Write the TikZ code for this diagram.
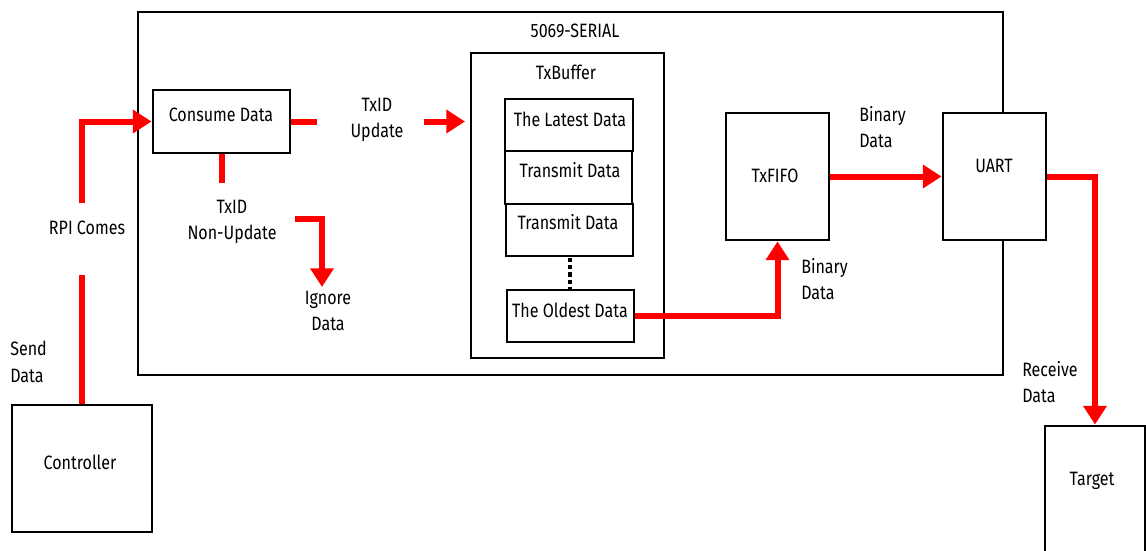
\documentclass[tikz,border=0pt]{standalone}
\usepackage{fontspec}
\setmainfont{Fira Sans}[FakeStretch=0.83]
\usetikzlibrary{arrows.meta}
\definecolor{arrred}{RGB}{255,0,0}
\begin{document}
\begin{tikzpicture}[x=0.75pt,y=-0.75pt,
  box/.style={draw=black,line width=2.2pt,fill=white,minimum width=#1,inner sep=0pt},
  txt/.style={font=\fontsize{14.5}{20}\selectfont,align=center,inner sep=0pt},
  ltxt/.style={txt,align=left,anchor=west},
  redline/.style={draw=arrred,line width=4.5pt},
  redarrow/.style={redline,-{Triangle[length=14pt,width=17pt]}},
  dotsline/.style={draw=black,line width=3.2pt,dash pattern=on 3.2pt off 2.2pt}]
\useasboundingbox (0,0) rectangle (1146,550);
% boxes
\node[box=648.75pt,minimum height=272.25pt,fill=none] (outer) at (570.5,193.5) {};
\node[box=102.75pt,minimum height=47.25pt] (consume) at (221.5,121.5) {};
\node[box=144.75pt,minimum height=228.75pt] (txbuf) at (567.5,205.5) {};
\node[box=96pt,minimum height=39pt] (latest) at (569,125) {};
\node[box=95.25pt,minimum height=39.75pt] (trans1) at (568.5,177.5) {};
\node[box=95.25pt,minimum height=39pt] (trans2) at (569.5,230) {};
\node[box=95.25pt,minimum height=39pt] (oldest) at (570.5,316) {};
\node[box=77.25pt,minimum height=95.25pt] (txfifo) at (777.5,176.5) {};
\node[box=77.25pt,minimum height=95.25pt] (uart) at (994.5,176.5) {};
\node[box=105pt,minimum height=95.25pt] (controller) at (82,468.5) {};
\node[box=75pt,minimum height=100.5pt] (target) at (1095,493) {};
% box texts
\node[txt] (ttitle) at (575,31) {5069-SERIAL};
\node[txt] (tbuf) at (566,72) {TxBuffer};
\node[txt] (tconsume) at (221,115) {Consume Data};
\node[txt] (tlatest) at (570,119) {The Latest Data};
\node[txt] (ttrans1) at (570,170) {Transmit Data};
\node[txt] (ttrans2) at (568,222) {Transmit Data};
\node[txt] (toldest) at (570,310) {The Oldest Data};
\node[txt] (tfifo) at (775,176) {TxFIFO};
\node[txt] (tuart) at (994,166) {UART};
\node[txt] (tcontroller) at (80,462) {Controller};
\node[txt] (ttarget) at (1092,481) {Target};
% labels
\node[txt] (lupd) at (377,120) {TxID\\Update};
\node[txt] (lnonupd) at (232,222) {TxID\\Non-Update};
\node[txt] (lignore) at (328,311) {Ignore\\Data};
\node[txt] (lrpi) at (87,228) {RPI Comes};
\node[ltxt] (lsend) at (10,362) {Send\\Data};
\node[ltxt] (lbin1) at (859,127) {Binary\\Data};
\node[ltxt] (lbin2) at (801,279) {Binary\\Data};
\node[ltxt] (lrecv) at (1022,382) {Receive\\Data};
% free ends
\coordinate (rpiA) at (82,275);
\coordinate (rpiB) at (82,203);
\coordinate (rpiC) at (82,121.5);
\coordinate (updA) at (317,121.5);
\coordinate (updB) at (424,121.5);
\coordinate (updC) at (465,121.5);
\coordinate (nonA) at (221.5,183);
\coordinate (ignA) at (295,219);
\coordinate (ignB) at (322,219);
\coordinate (ignC) at (322,287);
\coordinate (dotA) at (570,258);
\coordinate (dotB) at (570,289);
% connectors
\draw[redline] (controller.north) -- (rpiA);
\draw[redarrow] (rpiB) -- (rpiC) -- (consume.west);
\draw[redline] (consume.east) -- (updA);
\draw[redarrow] (updB) -- (updC);
\draw[redline] (consume.south) -- (nonA);
\draw[redarrow] (ignA) -- (ignB) -- (ignC);
\draw[dotsline] (dotA) -- (dotB);
\draw[redarrow] (oldest.east) -| (txfifo.south);
\draw[redarrow] (txfifo.east) -- (uart.west);
\draw[redarrow] (uart.east) -| (target.north);
\end{tikzpicture}
\end{document}
